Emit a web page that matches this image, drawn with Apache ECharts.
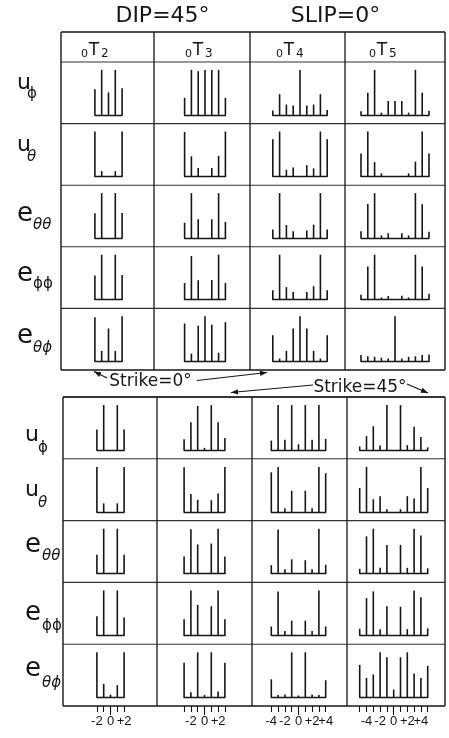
<!DOCTYPE html>
<html><head><meta charset="utf-8">
<script src="https://cdn.jsdelivr.net/npm/echarts@6/dist/echarts.min.js"></script>
<style>html,body{margin:0;padding:0;background:#fff}#c{width:449px;height:738px}</style>
</head><body><div id="c"></div>
<script>
// ---------- text ----------
const titleLeft = 'DIP=45°';
const titleRight = 'SLIP=0°';
const degrees = [2, 3, 4, 5];
const modePre = '0';
const modeMain = 'T';
const modeSub = ['2', '3', '4', '5'];
const compMain = ['u', 'u', 'e', 'e', 'e'];
const compSub = ['ϕ', 'θ', 'θθ', 'ϕϕ', 'θϕ'];
const strikeLabels = ['Strike=0°', 'Strike=45°'];
const tickValues23 = [-2, 0, 2];
const tickLabels23 = ['-2', '0', '+2'];
const tickValues45 = [-4, -2, 0, 2, 4];
const tickLabels45 = ['-4', '-2', '0', '+2', '+4'];

// ---------- Strike = 0° (m = -l..l, relative amplitude) ----------
const s0_uPhi = [
  [0.57, 1.0, 0.50, 1.0, 0.59],
  [0.38, 1.0, 0.97, 1.0, 1.0, 1.0, 0.38],
  [0.10, 0.46, 0.23, 0.21, 1.0, 0.21, 0.23, 0.46, 0.11],
  [0.08, 0.49, 1.0, 0.05, 0.31, 0.31, 0.31, 0.05, 1.0, 0.49, 0.09]
];
const s0_uTheta = [
  [1.0, 0.12, 0, 0.12, 1.0],
  [0.99, 0.45, 0.19, 0, 0.19, 0.46, 1.0],
  [0.83, 1.0, 0.15, 0.20, 0, 0.25, 0.18, 1.0, 0.83],
  [0.51, 1.0, 0.32, 0.07, 0, 0, 0, 0.07, 0.33, 1.0, 0.51]
];
const s0_eThTh = [
  [0.55, 1.0, 0, 1.0, 0.56],
  [0.34, 1.0, 0.42, 0, 0.42, 1.0, 0.36],
  [0.19, 1.0, 0.29, 0.15, 0, 0.17, 0.30, 1.0, 0.19],
  [0.15, 0.76, 1.0, 0.06, 0.11, 0, 0.11, 0.06, 1.0, 0.75, 0.14]
];
const s0_ePhPh = [
  [0.54, 1.0, 0, 1.0, 0.55],
  [0.37, 0.97, 0.43, 0, 0.44, 1.0, 0.37],
  [0.21, 1.0, 0.28, 0.17, 0, 0.17, 0.30, 1.0, 0.21],
  [0.11, 0.74, 1.0, 0.05, 0.08, 0, 0.09, 0.05, 1.0, 0.74, 0.13]
];
const s0_eThPh = [
  [0.98, 0.23, 0.73, 0.23, 1.0],
  [0.84, 0.17, 0.79, 1.0, 0.81, 0.19, 0.87],
  [0.58, 0.06, 0.23, 0.73, 1.0, 0.73, 0.23, 0.06, 0.58],
  [0.14, 0.11, 0.10, 0.08, 0.06, 1.0, 0.06, 0.10, 0.11, 0.14, 0.15]
];

// ---------- Strike = 45° ----------
const s45_uPhi = [
  [0.46, 1.0, 0, 1.0, 0.46],
  [0.24, 0.62, 0.98, 0.05, 1.0, 0.62, 0.27],
  [0.21, 1.0, 0.23, 1.0, 0.13, 1.0, 0.23, 1.0, 0.25],
  [0.08, 0.31, 0.53, 0.10, 1.0, 0, 1.0, 0.11, 0.52, 0.29, 0.06]
];
const s45_uTheta = [
  [1.0, 0.19, 0, 0.19, 1.0],
  [0.99, 0.40, 0.27, 0, 0.26, 0.41, 1.0],
  [0.88, 1.0, 0.08, 0.47, 0, 0.47, 0.08, 1.0, 0.86],
  [0.53, 1.0, 0.28, 0.35, 0.06, 0, 0.06, 0.35, 0.30, 1.0, 0.53]
];
const s45_eThTh = [
  [0.42, 1.0, 0, 1.0, 0.42],
  [0.38, 0.99, 0.65, 0, 0.67, 1.0, 0.38],
  [0.19, 0.98, 0.10, 0.32, 0, 0.30, 0.10, 1.0, 0.20],
  [0.11, 0.83, 1.0, 0.13, 0.64, 0, 0.64, 0.13, 1.0, 0.85, 0.12]
];
const s45_ePhPh = [
  [0.43, 1.0, 0, 1.0, 0.40],
  [0.36, 1.0, 0.68, 0, 0.65, 1.0, 0.36],
  [0.20, 0.98, 0.10, 0.33, 0, 0.33, 0.10, 1.0, 0.20],
  [0.15, 0.83, 0.98, 0.14, 0.65, 0, 0.64, 0.14, 1.0, 0.85, 0.16]
];
const s45_eThPh = [
  [1.0, 0.30, 0.06, 0.27, 1.0],
  [0.77, 0.11, 1.0, 0.05, 1.0, 0.13, 0.77],
  [0.40, 0.05, 0.06, 1.0, 0.04, 1.0, 0.06, 0.05, 0.38],
  [0.72, 0.43, 0.51, 1.0, 0.89, 0.17, 0.89, 1.0, 0.53, 0.43, 0.70]
];

// ---------- layout ----------
const INK = '#161616';
const FONT = 'DejaVu Sans';
const LAYOUT = {
  unit: 6.8, barMax: 45, baseGap: 8.7,
  headerTop: 32, headerTx: [94, 198, 289, 382], headerY: 51,
  blocks: [
    { left: 61, right: 445, top: 62, bottom: 370, colX: [154, 250, 345],
      centers: [108.5, 205, 300, 395], mainX: 17, subX: { u: 27, e: 33 },
      mainY: [84.5, 146.7, 216.7, 275.8, 338], subY: [94, 156.7, 225, 284, 348] },
    { left: 63, right: 445, top: 397, bottom: 706, colX: [157, 252, 347],
      centers: [110.5, 204.5, 298.5, 393.7], mainX: 25, subX: { u: 38, e: 42 },
      mainY: [436, 491, 547.5, 615, 671], subY: [448, 503, 556, 626, 683] }
  ]
};

const blocksData = [
  [s0_uPhi, s0_uTheta, s0_eThTh, s0_ePhPh, s0_eThPh],
  [s45_uPhi, s45_uTheta, s45_eThTh, s45_ePhPh, s45_eThPh]
];

function renderStick(params, api) {
  const m = api.value(0), h = api.value(1);
  if (!(h > 0)) return null;
  const p0 = api.coord([m, 0]);
  const p1 = api.coord([m, h]);
  return { type: 'line', shape: { x1: p0[0], y1: p0[1], x2: p1[0], y2: p1[1] },
    style: { stroke: INK, lineWidth: 1.6 } };
}

const grids = [], xAxes = [], yAxes = [], series = [], graphics = [];

function gLine(x1, y1, x2, y2, w, color) {
  graphics.push({ type: 'line', silent: true,
    shape: { x1, y1, x2, y2 }, style: { stroke: color || INK, lineWidth: w || 1.3 } });
}
function gText(text, x, y, size, align, opts) {
  graphics.push({ type: 'text', silent: true, x, y,
    style: Object.assign({ text, fontSize: size, fontFamily: FONT, fill: INK,
      align: align || 'center', verticalAlign: 'middle' }, opts || {}) });
}
function gArrow(x1, y1, x2, y2) {
  gLine(x1, y1, x2, y2, 1.2);
  const a = Math.atan2(y2 - y1, x2 - x1), L = 7, W = 2.6;
  const bx = x2 - L * Math.cos(a), by = y2 - L * Math.sin(a);
  graphics.push({ type: 'polygon', silent: true,
    shape: { points: [[x2, y2],
      [bx + W * Math.sin(a), by - W * Math.cos(a)],
      [bx - W * Math.sin(a), by + W * Math.cos(a)]] },
    style: { fill: INK } });
}

function tickAxis(gi, l, ticks, tickLen, labelVals, labelTexts) {
  return { type: 'value', gridIndex: gi, min: -l, max: l, position: 'bottom',
    offset: LAYOUT.baseGap,
    axisLine: { show: false, onZero: false },
    axisTick: { show: ticks.length > 0, customValues: ticks, length: tickLen,
      lineStyle: { color: INK, width: 1.1 } },
    axisLabel: { show: labelVals.length > 0, customValues: labelVals, margin: 9, fontSize: 13,
      showMinLabel: true, showMaxLabel: true, hideOverlap: false,
      fontFamily: 'Liberation Sans', color: INK,
      formatter: (v) => labelTexts[labelVals.indexOf(Math.round(v))] },
    splitLine: { show: false } };
}

blocksData.forEach((rows, b) => {
  const Lb = LAYOUT.blocks[b];
  const rowH = (Lb.bottom - Lb.top) / 5;
  rows.forEach((cells, r) => {
    const rowBottom = Lb.top + rowH * (r + 1);
    const base = rowBottom - LAYOUT.baseGap;
    cells.forEach((vals, c) => {
      const l = degrees[c];
      const gi = grids.length;
      grids.push({ left: Lb.centers[c] - l * LAYOUT.unit, width: 2 * l * LAYOUT.unit,
        top: base - LAYOUT.barMax, height: LAYOUT.barMax });
      xAxes.push({ type: 'value', gridIndex: gi, min: -l, max: l, position: 'bottom',
        axisLine: { show: true, onZero: false, lineStyle: { color: INK, width: 1.4 } },
        axisTick: { show: false }, axisLabel: { show: false }, splitLine: { show: false } });
      const xi = xAxes.length - 1;
      yAxes.push({ type: 'value', gridIndex: gi, min: 0, max: 1, show: false });
      series.push({ type: 'custom', xAxisIndex: xi, yAxisIndex: gi, clip: false,
        data: vals.map((h, i) => [i - l, h]), encode: { x: 0, y: 1 },
        renderItem: renderStick, animation: false, silent: true });
      if (b === 1 && r === 4) {
        const tv = l <= 3 ? tickValues23 : tickValues45;
        const tl = l <= 3 ? tickLabels23 : tickLabels45;
        const all = [];
        for (let m = -l; m <= l; m++) all.push(m);
        // split labels over two axes so neighbours never compete for space
        const aV = tv.filter((v, i) => i % 2 === 0), aT = tl.filter((v, i) => i % 2 === 0);
        const bV = tv.filter((v, i) => i % 2 === 1), bT = tl.filter((v, i) => i % 2 === 1);
        xAxes.push(tickAxis(gi, l, all, 6, aV, aT));
        xAxes.push(tickAxis(gi, l, [0], 9, bV, bT));
      }
    });
    // row separators
    gLine(Lb.left, Lb.top + rowH * r, Lb.right, Lb.top + rowH * r, 1.1, '#333');
    // row labels
    gText(compMain[r], Lb.mainX, Lb.mainY[r] - (compMain[r] === 'e' ? 2 : 1),
      compMain[r] === 'e' ? 26 : 22, 'left');
    gText(compSub[r], Lb.subX[compMain[r]], Lb.subY[r], 15, 'left',
      { fontStyle: compSub[r].indexOf('θ') >= 0 ? 'italic' : 'normal' });
  });
  // outer borders and columns
  const topY = b === 0 ? LAYOUT.headerTop : Lb.top;
  gLine(Lb.left, topY, Lb.right, topY, 1.4);
  gLine(Lb.left, Lb.bottom, Lb.right, Lb.bottom, 1.4);
  gLine(Lb.left, topY, Lb.left, Lb.bottom, 1.4);
  gLine(Lb.right, topY, Lb.right, Lb.bottom, 1.4);
  Lb.colX.forEach(x => gLine(x, topY, x, Lb.bottom, 1.3));
});

// headers
LAYOUT.headerTx.forEach((tx, c) => {
  gText(modeMain, tx, LAYOUT.headerY, 17, 'center');
  gText(modePre, tx - 6, LAYOUT.headerY + 3, 11, 'right');
  gText(modeSub[c], tx + 7, LAYOUT.headerY + 3, 12, 'left');
});
// titles
gText(titleLeft, 162.5, 16.5, 22, 'center');
gText(titleRight, 335.5, 16.5, 22, 'center');
// strike annotations
gText(strikeLabels[0], 150.5, 381.5, 17, 'center');
gArrow(107, 378, 94, 371.5);
gArrow(197, 380.5, 267, 372.5);
gText(strikeLabels[1], 360, 388, 17, 'center');
gArrow(313, 385, 231, 392.5);
gArrow(407, 384, 428, 393);

const chart = echarts.init(document.getElementById('c'), null, { renderer: 'canvas', width: 449, height: 738 });
chart.setOption({
  animation: false,
  backgroundColor: '#fff',
  grid: grids,
  xAxis: xAxes,
  yAxis: yAxes,
  series: series,
  graphic: { elements: graphics }
});
</script>
</body></html>
